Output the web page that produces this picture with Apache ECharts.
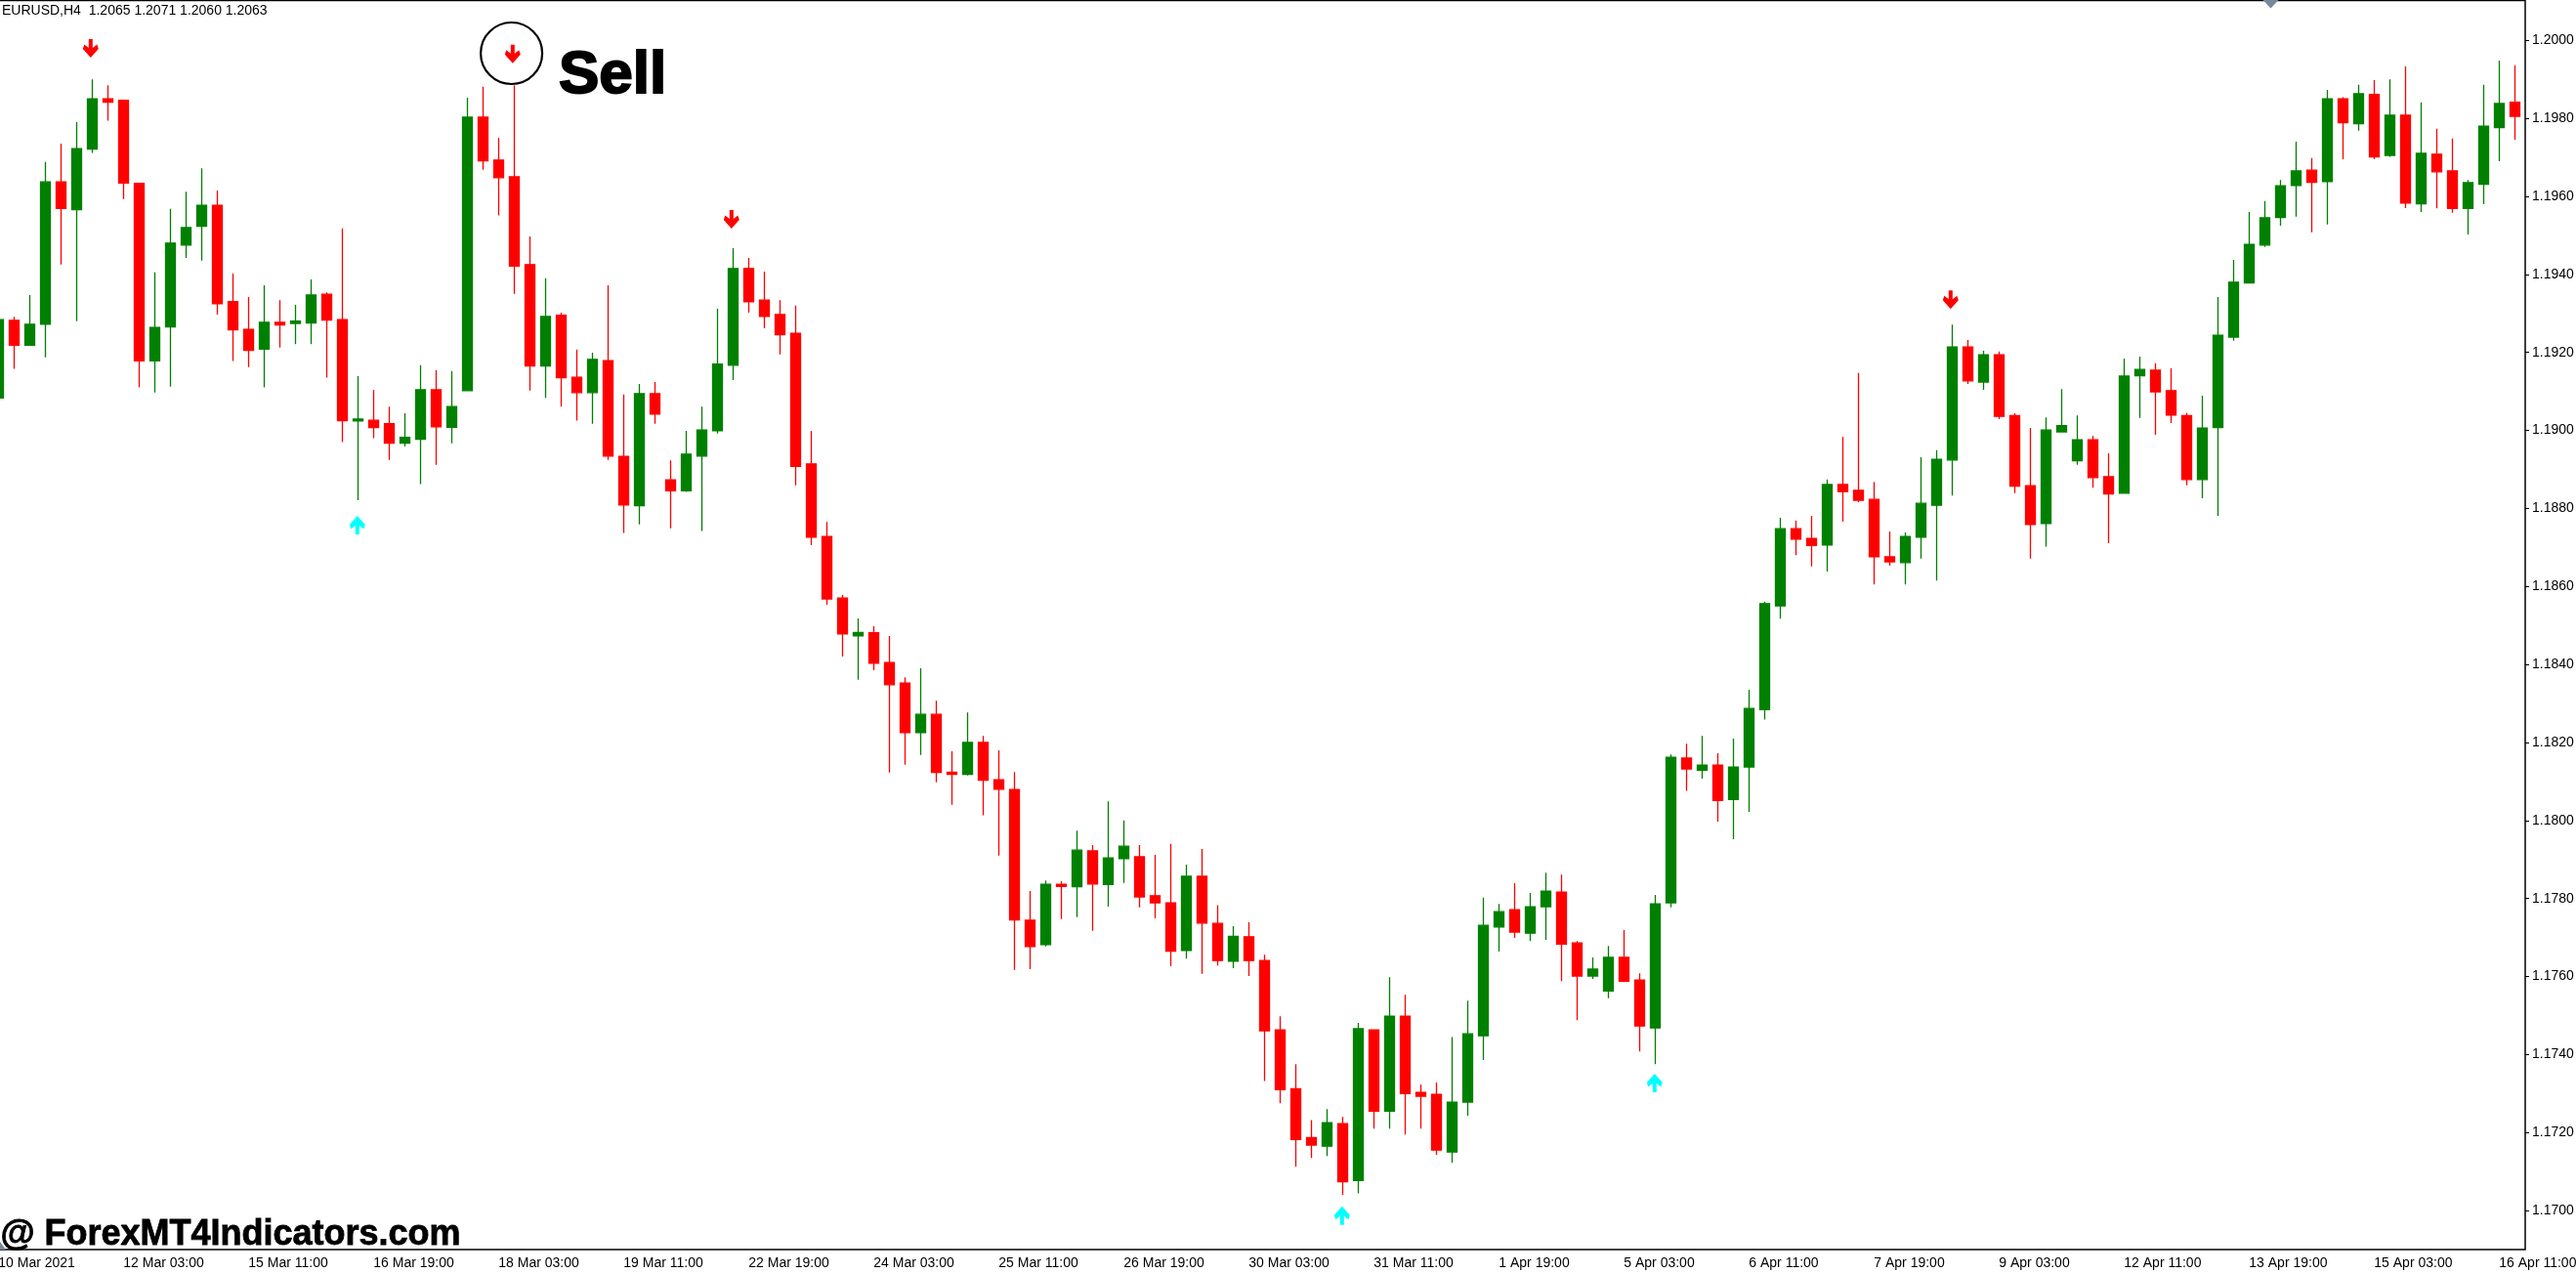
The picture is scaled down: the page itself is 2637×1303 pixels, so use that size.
<!DOCTYPE html>
<html>
<head>
<meta charset="utf-8">
<title>EURUSD,H4</title>
<script src="https://cdn.jsdelivr.net/npm/echarts@6/dist/echarts.min.js"></script>
<style>
html, body { margin: 0; padding: 0; background: #fff; overflow: hidden; }
#main { width: 2637px; height: 1303px; }
</style>
</head>
<body>
<div id="main"></div>
<script>
// one x label every 8 H4 bars
var tickLabels = ['10 Mar 2021', '12 Mar 03:00', '15 Mar 11:00', '16 Mar 19:00', '18 Mar 03:00', '19 Mar 11:00', '22 Mar 19:00',
  '24 Mar 03:00', '25 Mar 11:00', '26 Mar 19:00', '30 Mar 03:00', '31 Mar 11:00', '1 Apr 19:00', '5 Apr 03:00',
  '6 Apr 11:00', '7 Apr 19:00', '9 Apr 03:00', '12 Apr 11:00', '13 Apr 19:00', '15 Apr 03:00', '16 Apr 11:00'];
var priceTicks = [1.17, 1.172, 1.174, 1.176, 1.178, 1.18, 1.182, 1.184, 1.186, 1.188, 1.19, 1.192, 1.194, 1.196, 1.198, 1.2];

var opens = [
  1.19083, 1.19282, 1.19218, 1.19272, 1.19637, 1.19566, 1.19721, 1.19850, 1.19846, 1.19633,
  1.19178, 1.19265, 1.19475, 1.19523, 1.19577, 1.19330, 1.19259, 1.19208, 1.19277, 1.19274,
  1.19275, 1.19349, 1.19284, 1.19024, 1.19026, 1.19017, 1.18967, 1.18977, 1.19104, 1.19008,
  1.19102, 1.19803, 1.19693, 1.19650, 1.19425, 1.19165, 1.19295, 1.19136, 1.19097, 1.19179,
  1.18933, 1.18807, 1.19094, 1.18873, 1.18845, 1.18934, 1.18999, 1.19167, 1.19415, 1.19334,
  1.19297, 1.19249, 1.18914, 1.18728, 1.18570, 1.18473, 1.18481, 1.18405, 1.18352, 1.18225,
  1.18272, 1.18124, 1.18118, 1.18200, 1.18104, 1.18079, 1.17744, 1.17682, 1.17836, 1.17830,
  1.17922, 1.17836, 1.17902, 1.17907, 1.17807, 1.17789, 1.17667, 1.17857, 1.17736, 1.17639,
  1.17702, 1.17641, 1.17463, 1.17312, 1.17187, 1.17165, 1.17223, 1.17077, 1.17463, 1.17255,
  1.17498, 1.17303, 1.17298, 1.17150, 1.17278, 1.17448, 1.17727, 1.17771, 1.17711, 1.17779,
  1.17816, 1.17686, 1.17601, 1.17563, 1.17649, 1.17591, 1.17468, 1.17789, 1.18160, 1.18129,
  1.18142, 1.18054, 1.18137, 1.18284, 1.18550, 1.18748, 1.18723, 1.18706, 1.18861, 1.18846,
  1.18823, 1.18676, 1.18661, 1.18726, 1.18808, 1.18924, 1.19214, 1.19124, 1.19194, 1.19038,
  1.18858, 1.18761, 1.18996, 1.18922, 1.18976, 1.18881, 1.18839, 1.19140, 1.19154, 1.19102,
  1.19038, 1.18874, 1.19007, 1.19239, 1.19378, 1.19475, 1.19546, 1.19628, 1.19667, 1.19638,
  1.19850, 1.19786, 1.19861, 1.19705, 1.19808, 1.19581, 1.19708, 1.19665, 1.19569, 1.19631,
  1.19776, 1.19841
];
var closes = [
  1.19284, 1.19218, 1.19272, 1.19637, 1.19569, 1.19722, 1.19850, 1.19841, 1.19634, 1.19178,
  1.19264, 1.19480, 1.19520, 1.19577, 1.19325, 1.19258, 1.19205, 1.19277, 1.19270, 1.19280,
  1.19347, 1.19283, 1.19025, 1.19029, 1.19007, 1.18967, 1.18982, 1.19104, 1.19009, 1.19061,
  1.19803, 1.19691, 1.19648, 1.19421, 1.19165, 1.19292, 1.19135, 1.19097, 1.19182, 1.18934,
  1.18809, 1.19094, 1.19042, 1.18845, 1.18939, 1.19001, 1.19170, 1.19415, 1.19330, 1.19292,
  1.19245, 1.18908, 1.18726, 1.18568, 1.18478, 1.18482, 1.18403, 1.18348, 1.18225, 1.18272,
  1.18123, 1.18118, 1.18200, 1.18103, 1.18080, 1.17745, 1.17677, 1.17836, 1.17831, 1.17924,
  1.17837, 1.17904, 1.17934, 1.17804, 1.17789, 1.17665, 1.17857, 1.17737, 1.17641, 1.17703,
  1.17641, 1.17461, 1.17310, 1.17182, 1.17168, 1.17225, 1.17074, 1.17466, 1.17255, 1.17498,
  1.17300, 1.17293, 1.17155, 1.17278, 1.17453, 1.17731, 1.17766, 1.17714, 1.17779, 1.17819,
  1.17683, 1.17601, 1.17619, 1.17649, 1.17588, 1.17473, 1.17786, 1.18162, 1.18132, 1.18142,
  1.18051, 1.18137, 1.18287, 1.18556, 1.18748, 1.18721, 1.18705, 1.18861, 1.18843, 1.18821,
  1.18676, 1.18663, 1.18728, 1.18813, 1.18926, 1.19214, 1.19127, 1.19194, 1.19036, 1.18857,
  1.18759, 1.19001, 1.19012, 1.18976, 1.18879, 1.18837, 1.19139, 1.19156, 1.19099, 1.19039,
  1.18874, 1.19006, 1.19244, 1.19380, 1.19477, 1.19545, 1.19627, 1.19665, 1.19636, 1.19850,
  1.19789, 1.19863, 1.19701, 1.19808, 1.19583, 1.19710, 1.19663, 1.19569, 1.19635, 1.19780,
  1.19838, 1.19805
];
var lows = [
  1.19083, 1.19158, 1.19218, 1.19187, 1.19425, 1.19280, 1.19711, 1.19794, 1.19593, 1.19110,
  1.19097, 1.19112, 1.19442, 1.19435, 1.19297, 1.19178, 1.19162, 1.19110, 1.19212, 1.19221,
  1.19221, 1.19135, 1.18970, 1.18821, 1.18980, 1.18924, 1.18959, 1.18862, 1.18912, 1.18967,
  1.19102, 1.19668, 1.19551, 1.19350, 1.19102, 1.19083, 1.19061, 1.19025, 1.19017, 1.18924,
  1.18737, 1.18759, 1.19017, 1.18749, 1.18842, 1.18742, 1.18992, 1.19129, 1.19302, 1.19262,
  1.19195, 1.18859, 1.18706, 1.18553, 1.18420, 1.18361, 1.18385, 1.18123, 1.18143, 1.18168,
  1.18098, 1.18040, 1.18115, 1.18013, 1.17910, 1.17617, 1.17619, 1.17677, 1.17747, 1.17752,
  1.17717, 1.17779, 1.17840, 1.17777, 1.17749, 1.17626, 1.17646, 1.17607, 1.17628, 1.17621,
  1.17601, 1.17332, 1.17275, 1.17112, 1.17135, 1.17140, 1.17040, 1.17044, 1.17210, 1.17210,
  1.17195, 1.17210, 1.17143, 1.17122, 1.17243, 1.17386, 1.17664, 1.17699, 1.17691, 1.17694,
  1.17588, 1.17488, 1.17594, 1.17544, 1.17588, 1.17408, 1.17375, 1.17777, 1.18076, 1.18107,
  1.17997, 1.17952, 1.18022, 1.18259, 1.18517, 1.18680, 1.18651, 1.18638, 1.18766, 1.18816,
  1.18605, 1.18653, 1.18605, 1.18671, 1.18615, 1.18833, 1.19119, 1.19104, 1.19029, 1.18839,
  1.18671, 1.18702, 1.18996, 1.18912, 1.18853, 1.18711, 1.18839, 1.19032, 1.18989, 1.19019,
  1.18859, 1.18826, 1.18781, 1.19230, 1.19378, 1.19470, 1.19525, 1.19548, 1.19508, 1.19528,
  1.19695, 1.19768, 1.19695, 1.19701, 1.19570, 1.19560, 1.19569, 1.19558, 1.19502, 1.19580,
  1.19690, 1.19745
];
var highs = [
  1.19284, 1.19291, 1.19347, 1.19688, 1.19735, 1.19790, 1.19900, 1.19885, 1.19847, 1.19635,
  1.19405, 1.19568, 1.19612, 1.19672, 1.19615, 1.19402, 1.19342, 1.19372, 1.19334, 1.19322,
  1.19387, 1.19354, 1.19518, 1.19139, 1.19104, 1.19061, 1.19044, 1.19167, 1.19154, 1.19152,
  1.19853, 1.19881, 1.19750, 1.19885, 1.19497, 1.19390, 1.19302, 1.19207, 1.19199, 1.19372,
  1.19092, 1.19119, 1.19124, 1.18923, 1.18999, 1.19061, 1.19312, 1.19467, 1.19442, 1.19407,
  1.19334, 1.19320, 1.18999, 1.18765, 1.18578, 1.18518, 1.18498, 1.18473, 1.18367, 1.18390,
  1.18307, 1.18177, 1.18277, 1.18217, 1.18180, 1.18124, 1.17819, 1.17846, 1.17844, 1.17974,
  1.17937, 1.18049, 1.18000, 1.17937, 1.17912, 1.17940, 1.17887, 1.17927, 1.17783, 1.17729,
  1.17739, 1.17656, 1.17498, 1.17375, 1.17232, 1.17260, 1.17240, 1.17481, 1.17463, 1.17598,
  1.17553, 1.17323, 1.17328, 1.17445, 1.17538, 1.17802, 1.17786, 1.17839, 1.17814, 1.17866,
  1.17861, 1.17691, 1.17649, 1.17678, 1.17719, 1.17608, 1.17809, 1.18169, 1.18197, 1.18217,
  1.18172, 1.18210, 1.18335, 1.18561, 1.18776, 1.18769, 1.18781, 1.18874, 1.18984, 1.19147,
  1.18868, 1.18741, 1.18738, 1.18931, 1.18949, 1.19271, 1.19232, 1.19204, 1.19202, 1.19044,
  1.19006, 1.19033, 1.19106, 1.19038, 1.18986, 1.18941, 1.19184, 1.19189, 1.19172, 1.19159,
  1.19045, 1.19089, 1.19342, 1.19437, 1.19560, 1.19588, 1.19642, 1.19740, 1.19698, 1.19873,
  1.19854, 1.19886, 1.19898, 1.19900, 1.19933, 1.19841, 1.19773, 1.19748, 1.19642, 1.19886,
  1.19948, 1.19936
];

// signal arrows: bar index and price level
var sellBars = [6, 33, 47, 125];
var sellPrices = [1.19979, 1.19965, 1.19541, 1.19335];
var buyBars = [23, 86, 106];
var buyPrices = [1.18757, 1.16987, 1.17327];

var categories = opens.map(function (v, i) {
  return i % 8 === 0 ? tickLabels[i / 8] : '';
});
var candles = opens.map(function (v, i) {
  return [opens[i], closes[i], lows[i], highs[i]];
});

var downArrow = 'path://M6,0 L10,0 L10,9 L14.5,5.5 L16,10 L8,19 L0,10 L1.5,5.5 L6,9 Z';
var upArrow = 'path://M6,19 L10,19 L10,10 L14.5,13.5 L16,9 L8,0 L0,9 L1.5,13.5 L6,10 Z';
var font = '"Liberation Sans", Arial, sans-serif';

var myChart = echarts.init(document.getElementById('main'));
myChart.setOption({
  animation: false,
  backgroundColor: '#fff',
  grid: [
    // bars are 16px apart, the first one sits just off the left edge
    { outerBoundsMode: 'none', left: -9.7, width: 2592, top: 1.3, bottom: 24 },
    // chart frame only
    { outerBoundsMode: 'none', show: true, left: -3, right: 52, top: 0.5, bottom: 24, borderColor: '#000', borderWidth: 1.5, backgroundColor: 'transparent' }
  ],
  xAxis: {
    type: 'category',
    data: categories,
    boundaryGap: true,
    axisLine: { show: false },
    axisTick: { interval: 7, alignWithLabel: true, length: 4, lineStyle: { color: '#000', width: 1 } },
    axisLabel: {
      interval: 7,
      align: 'left',
      margin: 7,
      color: '#000',
      fontFamily: font,
      fontSize: 14,
      showMinLabel: true,
      showMaxLabel: true,
      hideOverlap: false
    },
    splitLine: { show: false }
  },
  yAxis: {
    type: 'value',
    position: 'right',
    offset: 2.7,
    min: 1.169,
    max: 1.201,
    axisLine: { show: false },
    axisTick: { show: true, length: 4, customValues: priceTicks, lineStyle: { color: '#000', width: 1 } },
    axisLabel: {
      margin: 7,
      color: '#000',
      fontFamily: font,
      fontSize: 14,
      customValues: priceTicks,
      formatter: function (v) { return v.toFixed(4); }
    },
    splitLine: { show: false }
  },
  series: [
    {
      type: 'candlestick',
      data: candles,
      barWidth: 10,
      itemStyle: { color: '#008000', color0: '#ff0000', borderColor: '#008000', borderColor0: '#ff0000', borderWidth: 1.3 }
    },
    {
      type: 'scatter',
      data: sellBars.map(function (b, i) { return [b, sellPrices[i]]; }),
      symbol: downArrow,
      symbolSize: [16, 19],
      symbolOffset: [-1.5, 0],
      itemStyle: { color: '#ff0000', opacity: 1 }
    },
    {
      type: 'scatter',
      data: buyBars.map(function (b, i) { return [b, buyPrices[i]]; }),
      symbol: upArrow,
      symbolSize: [16, 19],
      symbolOffset: [-0.5, 0],
      itemStyle: { color: '#00ffff', opacity: 1 }
    }
  ],
  graphic: [
    { type: 'text', left: 2, top: 4, style: { text: 'EURUSD,H4  1.2065 1.2071 1.2060 1.2063', fill: '#000', font: '14px ' + font } },
    { type: 'circle', shape: { cx: 523.6, cy: 54.5, r: 31.5 }, style: { fill: 'none', stroke: '#000', lineWidth: 2.2 } },
    { type: 'text', left: 571, top: 46, style: { text: 'Sell', fill: '#000', stroke: '#000', lineWidth: 2, font: 'bold 62px ' + font } },
    { type: 'text', left: 0, top: 1246, style: { text: '@ ForexMT4Indicators.com', fill: '#000', stroke: '#000', lineWidth: 0.8, font: 'bold 36px ' + font } },
    { type: 'polygon', shape: { points: [[2316.5, 0], [2332.5, 0], [2324.5, 8.5]] }, style: { fill: '#778899' } },
    { type: 'polygon', shape: { points: [[0, 1271], [6, 1279], [0, 1279]] }, style: { fill: '#778899' } }
  ]
});
</script>
</body>
</html>
